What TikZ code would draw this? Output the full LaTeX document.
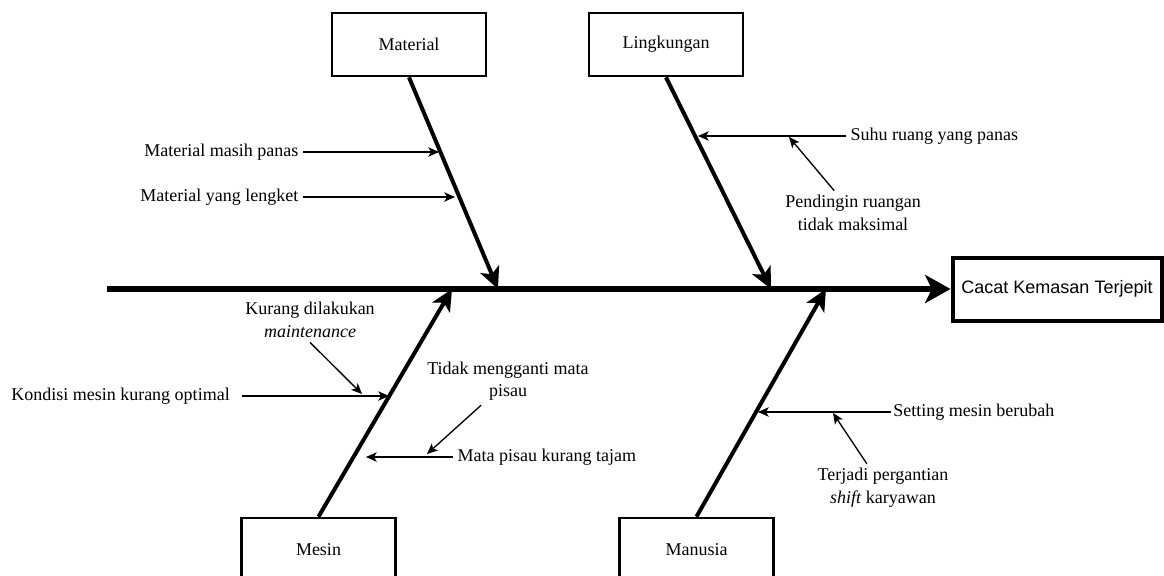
\documentclass[tikz,border=0pt]{standalone}
\usepackage{fontspec}
\setmainfont{Liberation Serif}
\newfontfamily\arialfont{Liberation Sans}
\usetikzlibrary{arrows.meta,positioning}
\tikzset{
  catbox/.style={draw, line width=2pt, minimum width=115.5pt, minimum height=47.25pt, font=\fontsize{13.5}{17}\selectfont},
  effbox/.style={draw, line width=3pt, minimum width=156.75pt, minimum height=47.25pt, font=\arialfont\fontsize{13.5}{17}\selectfont},
  cause/.style={align=center, font=\fontsize{13.5}{17}\selectfont},
  spine/.style={line width=4pt, -{Stealth[length=19pt,width=21pt,inset=5pt]}},
  bone/.style={line width=3pt, -{Stealth[length=16pt,width=15pt,inset=4pt]}},
  twig/.style={line width=1pt, -{Stealth[length=8pt,width=7pt,inset=2pt]}}
}

\begin{document}
\begin{tikzpicture}[x=0.75pt,y=-0.75pt]
\clip (0,0) rectangle (1164,575); % page
% Head
\node[effbox] (cacat) at (1057,289) {Cacat Kemasan Terjepit};
\coordinate (tail) at (107,289); % spine start
\draw[spine] (tail) -- (cacat); % spine
% Boxes
\node[catbox] (mat) at (409,44.5) {Material};
\node[catbox] (ling) at (666,44.5) {Lingkungan};
\node[catbox] (mes) at (318.5,549.5) {Mesin};
\node[catbox] (man) at (696.5,549.5) {Manusia};
\coordinate (matend) at (498,289); % material tip
\coordinate (lingend) at (771,289); % lingkungan tip
\coordinate (mesend) at (452,289); % mesin tip
\coordinate (manend) at (826,289); % manusia tip
\draw[bone] (mat.south) -- (matend); % material bone
\draw[bone] (ling.south) -- (lingend); % lingkungan bone
\draw[bone] (mes.north) -- (mesend); % mesin bone
\draw[bone] (man.north) -- (manend); % manusia bone
% Material
\node[cause, left = 0mm of {(303,152)}] (matpanas) {Material masih panas};
\coordinate (matpanasend) at (439,152);
\draw[twig] (matpanas) -- (matpanasend);
\node[cause, left = 0mm of {(303,197)}] (matlengket) {Material yang lengket};
\coordinate (matlengketend) at (455,197);
\draw[twig] (matlengket) -- (matlengketend);
% Lingkungan
\node[cause, right = 0mm of {(846,136)}] (suhu) {Suhu ruang yang panas};
\coordinate (suhuend) at (698,136);
\draw[twig] (suhu) -- (suhuend);
\node[cause] (pend) at (853,213) {Pendingin ruangan\\tidak maksimal};
\coordinate (pendend) at (789,137);
\draw[twig] (pend) -- (pendend);
% Mesin
\node[cause, inner xsep=9pt, left = 0mm of {(242,396)}] (kondisi) {Kondisi mesin kurang optimal};
\coordinate (kondisiend) at (389,396);
\draw[twig] (kondisi) -- (kondisiend);
\node[cause] (kurang) at (310,320) {Kurang dilakukan\\\textit{maintenance}};
\coordinate (kurangend) at (362,394);
\draw[twig] (kurang.south) -- (kurangend);
\node[cause, right = 0mm of {(453,457)}] (tajam) {Mata pisau kurang tajam};
\coordinate (tajamend) at (366,457);
\draw[twig] (tajam) -- (tajamend);
\node[cause] (ganti) at (508,381) {Tidak mengganti mata\\pisau};
\coordinate (gantiend) at (427,454);
\draw[twig] (ganti) -- (gantiend);
% Manusia
\node[cause, inner xsep=1.5pt, right = 0mm of {(891,412)}] (setting) {Setting mesin berubah};
\coordinate (settingend) at (758,412);
\draw[twig] (setting) -- (settingend);
\node[cause] (shift) at (883,488) {Terjadi pergantian\\\textit{shift} karyawan};
\coordinate (shiftend) at (833,413);
\draw[twig] (shift) -- (shiftend);
\end{tikzpicture}
\end{document}
